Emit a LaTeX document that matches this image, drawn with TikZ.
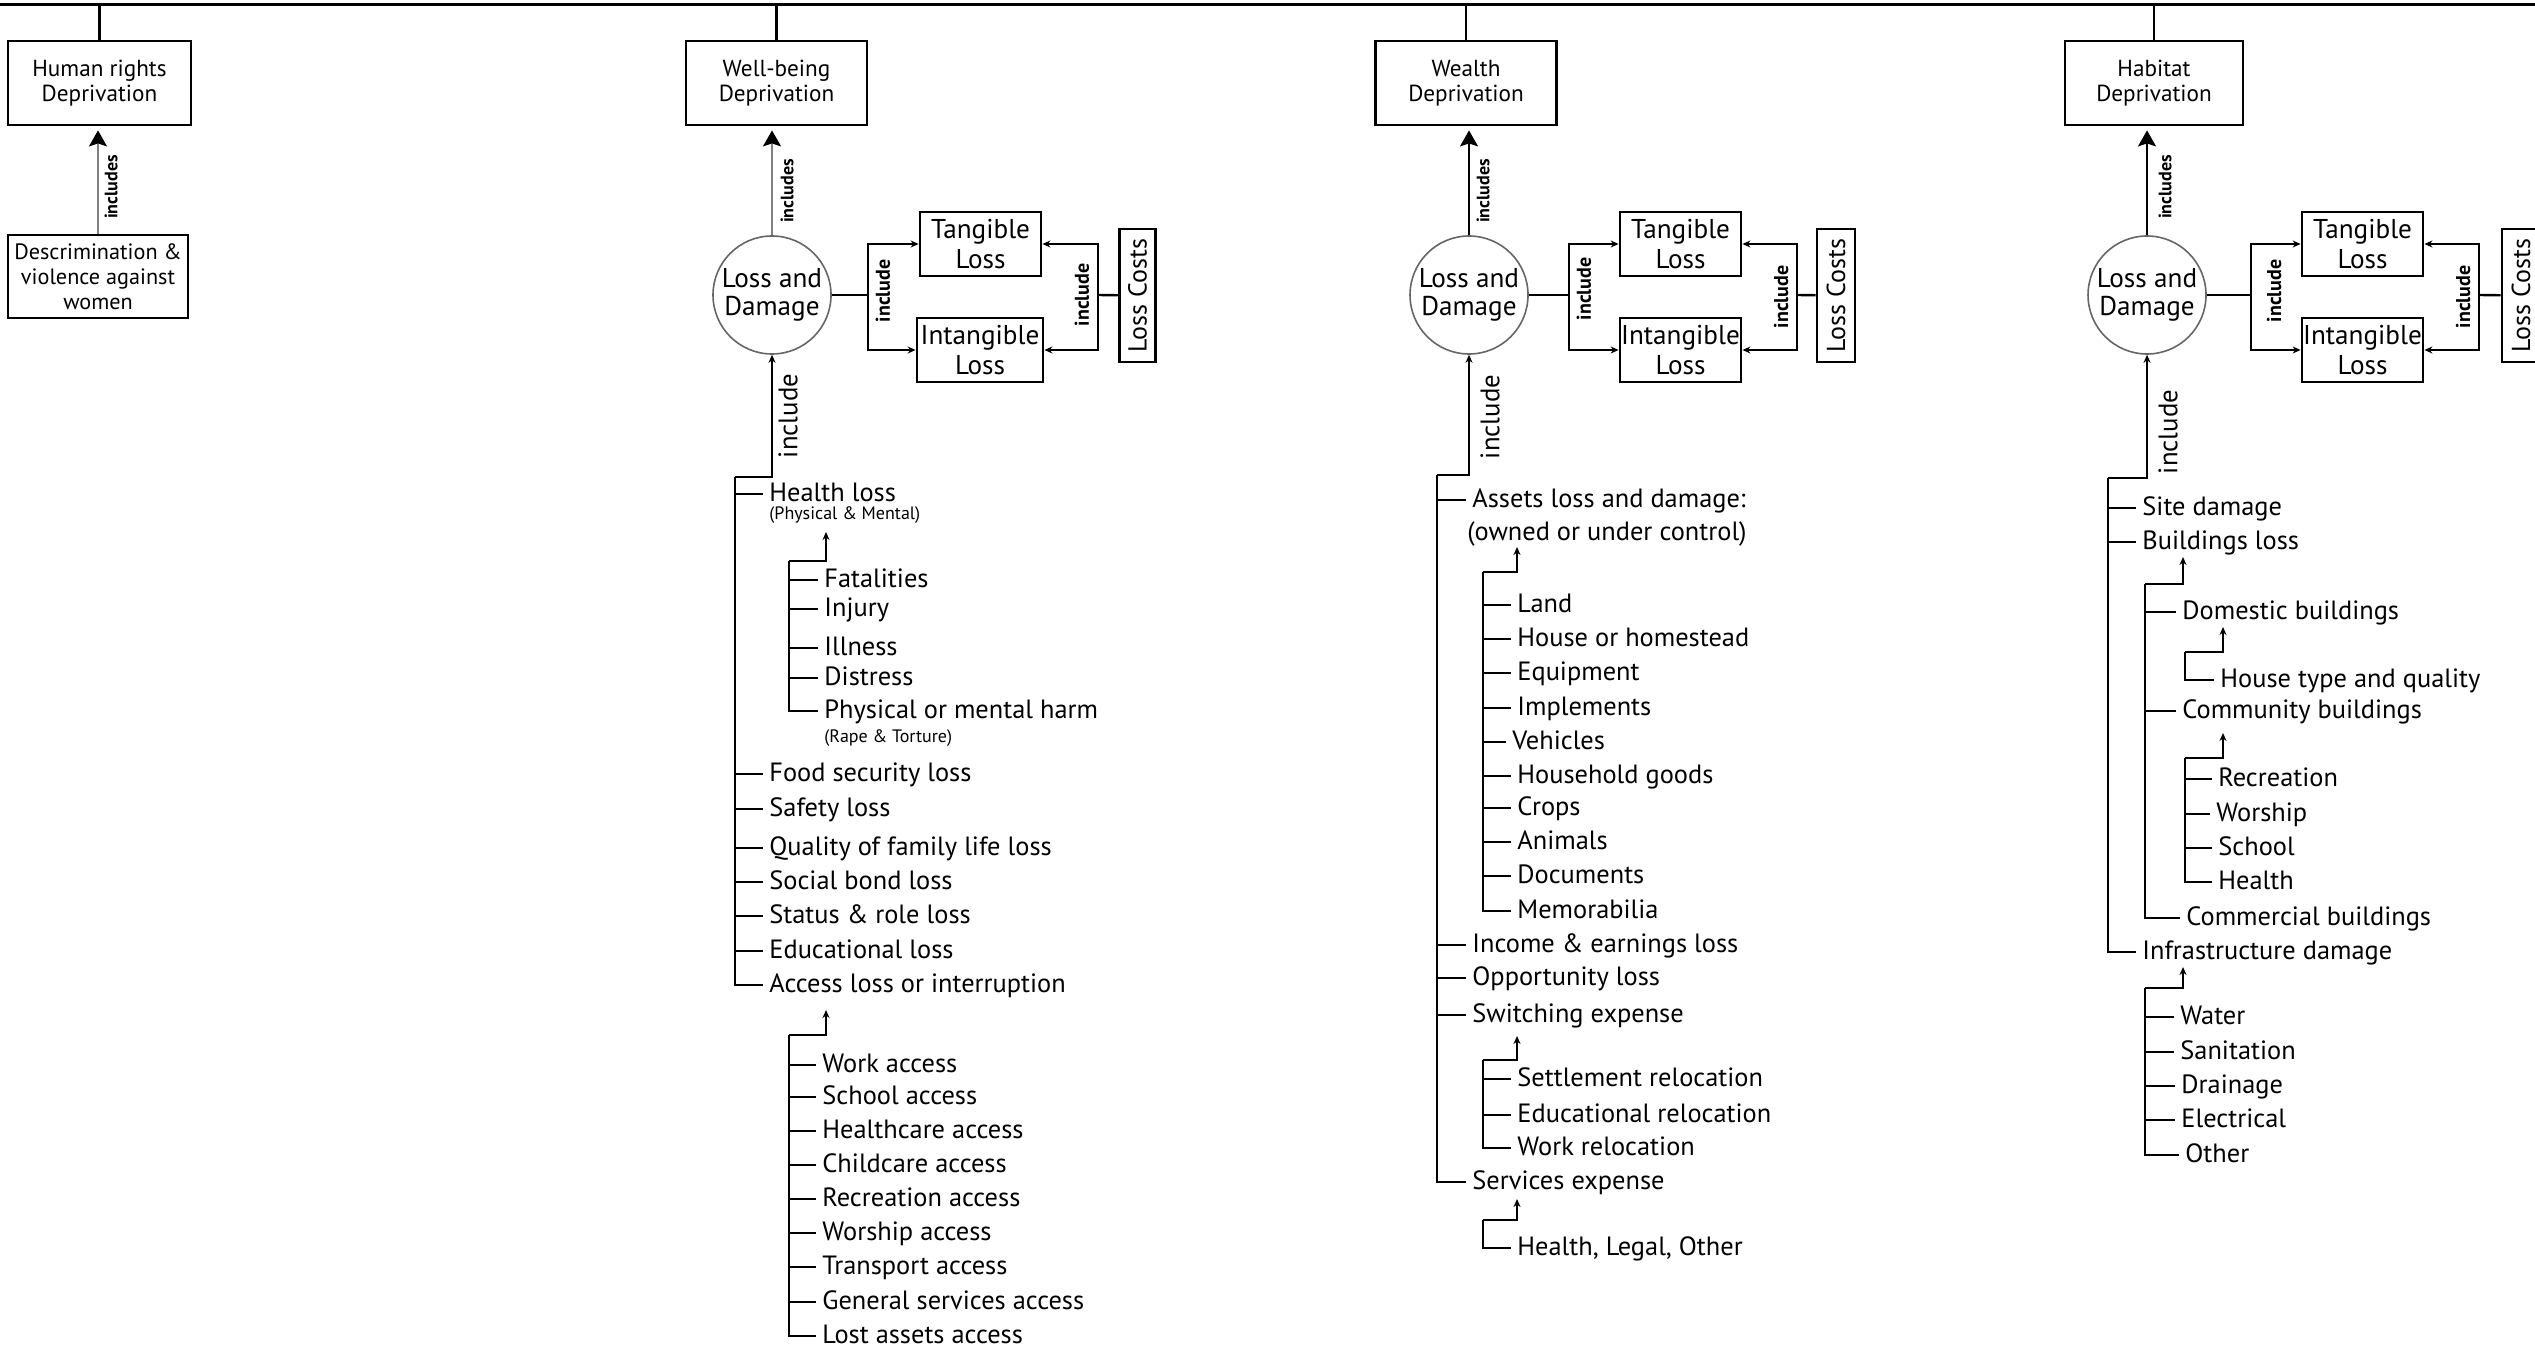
\documentclass[tikz,border=0pt]{standalone}
\usepackage{fontspec}
\setmainfont{PT Sans}
\usetikzlibrary{arrows.meta}
\newcommand{\itf}{\fontsize{13.2}{15}\selectfont}
\begin{document}
\begin{tikzpicture}[x=0.5pt,y=-0.5pt,
  box/.style={draw, line width=1.4pt, align=center, inner sep=0pt, font=\fontsize{11.6}{12.5}\selectfont},
  ldc/.style={circle, draw=black!60, line width=0.8pt, minimum size=59pt, inner sep=0pt, align=center, font=\fontsize{13.6}{14}\selectfont},
  lbox/.style={draw, line width=1.4pt, align=center, inner sep=0pt, minimum width=60.5pt, minimum height=32pt, font=\fontsize{13.6}{15}\selectfont},
  costbox/.style={draw, line width=1.4pt, inner sep=0pt, minimum width=66.5pt, minimum height=18pt, rotate=90, font=\fontsize{13}{15}\selectfont},
  item/.style={anchor=west, xshift=-3pt, inner xsep=3pt, inner ysep=0pt, text height=1.45ex, text depth=0pt, font=\itf},
  note/.style={anchor=west, inner sep=0pt, font=\fontsize{9}{10}\selectfont},
  plain/.style={anchor=west, inner sep=0pt, text height=1.45ex, text depth=0pt, font=\itf},
  tree/.style={line width=1.3pt},
  brk/.style={line width=1.2pt},
  sarr/.style={-{Stealth[length=4pt,width=3.5pt]}},
  toparr/.style={line width=1.1pt, shorten >=2pt, -{Stealth[length=8pt,width=9pt,inset=1.5pt]}},
  toparrg/.style={line width=1.1pt, shorten >=2pt, draw=black!50, -{Stealth[length=8pt,width=9pt,inset=1.5pt,color=black]}},
  inclab/.style={rotate=90, inner sep=0pt, font=\bfseries\fontsize{9}{10}\selectfont},
  inclabm/.style={rotate=90, inner sep=0pt, font=\bfseries\fontsize{10}{11}\selectfont},
  inclabb/.style={rotate=90, inner sep=0pt, font=\fontsize{13.4}{14}\selectfont}
]
\useasboundingbox[fill=white] (0,0) rectangle (2535,1347);

% top line
\coordinate (tl) at (0,5);
\coordinate (tr) at (2535,5);
\draw[line width=1.5pt] (tl) -- (tr);

% ---------------- Human rights ----------------
\node[box, minimum width=91.5pt, minimum height=42pt] (hr) at (99.5,83) {Human rights\\Deprivation};
\node[box, minimum width=90pt, minimum height=41.5pt, font=\fontsize{11.1}{12.5}\selectfont] (desc) at (98,276.5) {Descrimination \&\\violence against\\women};
\draw[line width=1.3pt] (hr.north) -- (hr.north |- tl);
\draw[toparrg] (desc.north) -- (desc.north |- hr.south);
\node[inclab] at (111,187) {includes};

% ---------------- Well-being ----------------
\node[box, minimum width=90.5pt, minimum height=42pt] (wb) at (776.5,83) {Well-being\\Deprivation};
\draw[line width=1.3pt] (wb.north) -- (wb.north |- tl);
\node[ldc] (wbld) at (772,295) {Loss and\\Damage};
\draw[toparrg] (wbld.north) -- (wbld.north |- wb.south);
\node[inclab] at (787,191) {includes};
\node[lbox] (wbt) at (980.5,244) {Tangible\\Loss};
\node[lbox, minimum width=63pt] (wbi) at (980,350) {Intangible\\Loss};
\node[costbox] (wbc) at (1137.5,295.5) {Loss Costs};
\coordinate (wbx) at (868,295);
\coordinate (wby) at (1098,295);
\draw[brk] (wbld) -- (wbx);
\draw[brk,sarr] (wbx) |- (wbt);
\draw[brk,sarr] (wbx) |- (wbi);
\draw[brk] (wbc) -- (wby);
\draw[brk,sarr] (wby) |- (wbt);
\draw[brk,sarr] (wby) |- (wbi);
\node[inclabm] at (883,291) {include};
\node[inclabm] at (1082,295) {include};
\node[inclabb] at (788,416) {include};

\coordinate (wb0) at (735,477);
\draw[tree,sarr] (wb0) -| (wbld);
\node[item] (w1) at (769,494) {Health loss};
\node[note] (w1n) at (769,515) {(Physical \& Mental)};
\node[item] (w2) at (769,774) {Food security loss};
\node[item] (w3) at (769,809) {Safety loss};
\node[item] (w4) at (769,848) {Quality of family life loss};
\node[item] (w5) at (769,882) {Social bond loss};
\node[item] (w6) at (769,916) {Status \& role loss};
\node[item] (w7) at (769,951) {Educational loss};
\node[item] (w8) at (769,985) {Access loss or interruption};
\foreach \n in {w1,w2,w3,w4,w5,w6,w7,w8} \draw[tree] (wb0) |- (\n);

\coordinate (h0) at (789,561);
\coordinate (hin) at (826,532);
\draw[tree,sarr] (h0) -| (hin);
\node[item] (h1) at (824,580) {Fatalities};
\node[item] (h2) at (824,609) {Injury};
\node[item] (h3) at (824,648) {Illness};
\node[item] (h4) at (824,678) {Distress};
\node[item] (h5) at (824,711) {Physical or mental harm};
\node[note] (h5n) at (824,738) {(Rape \& Torture)};
\foreach \n in {h1,h2,h3,h4,h5} \draw[tree] (h0) |- (\n);

\coordinate (a0) at (789,1035);
\coordinate (ain) at (826,1010);
\draw[tree,sarr] (a0) -| (ain);
\node[item] (a1) at (822,1065) {Work access};
\node[item] (a2) at (822,1097) {School access};
\node[item] (a3) at (822,1131) {Healthcare access};
\node[item] (a4) at (822,1165) {Childcare access};
\node[item] (a5) at (822,1199) {Recreation access};
\node[item] (a6) at (822,1233) {Worship access};
\node[item] (a7) at (822,1267) {Transport access};
\node[item] (a8) at (822,1302) {General services access};
\node[item] (a9) at (822,1336) {Lost assets access};
\foreach \n in {a1,a2,a3,a4,a5,a6,a7,a8,a9} \draw[tree] (a0) |- (\n);

% ---------------- Wealth ----------------
\node[box, minimum width=90.5pt, minimum height=42pt] (we) at (1466,83) {Wealth\\Deprivation};
\draw[line width=1.3pt] (we.north) -- (we.north |- tl);
\node[ldc] (weld) at (1469,295) {Loss and\\Damage};
\draw[toparr] (weld.north) -- (weld.north |- we.south);
\node[inclab] at (1483,191) {includes};
\node[lbox] (wet) at (1680.5,244) {Tangible\\Loss};
\node[lbox] (wei) at (1680.5,350) {Intangible\\Loss};
\node[costbox, minimum height=19pt] (wec) at (1836,295.5) {Loss Costs};
\coordinate (wex) at (1569,295);
\coordinate (wey) at (1797,295);
\draw[brk] (weld) -- (wex);
\draw[brk,sarr] (wex) |- (wet);
\draw[brk,sarr] (wex) |- (wei);
\draw[brk] (wec) -- (wey);
\draw[brk,sarr] (wey) |- (wet);
\draw[brk,sarr] (wey) |- (wei);
\node[inclabm] at (1584,289) {include};
\node[inclabm] at (1781,297) {include};
\node[inclabb] at (1490,417) {include};

\coordinate (we0) at (1437,475);
\draw[tree,sarr] (we0) -| (weld);
\node[item] (e1) at (1472,500) {Assets loss and damage:};
\node[plain] (e1n) at (1467,533) {(owned or under control)};
\node[item] (e2) at (1472,945) {Income \& earnings loss};
\node[item] (e3) at (1472,978) {Opportunity loss};
\node[item] (e4) at (1472,1015) {Switching expense};
\node[item] (e5) at (1472,1182) {Services expense};
\foreach \n in {e1,e2,e3,e4,e5} \draw[tree] (we0) |- (\n);

\coordinate (s0) at (1483,572);
\coordinate (sin) at (1517,547);
\draw[tree,sarr] (s0) -| (sin);
\node[item] (s1) at (1517,605) {Land};
\node[item] (s2) at (1517,639) {House or homestead};
\node[item] (s3) at (1517,673) {Equipment};
\node[item] (s4) at (1517,708) {Implements};
\node[item] (s5) at (1512,742) {Vehicles};
\node[item] (s6) at (1517,776) {Household goods};
\node[item] (s7) at (1517,808) {Crops};
\node[item] (s8) at (1517,842) {Animals};
\node[item] (s9) at (1517,876) {Documents};
\node[item] (s10) at (1517,911) {Memorabilia};
\foreach \n in {s1,s2,s3,s4,s5,s6,s7,s8,s9,s10} \draw[tree] (s0) |- (\n);

\coordinate (r0) at (1483,1060);
\coordinate (rin) at (1517,1036);
\draw[tree,sarr] (r0) -| (rin);
\node[item] (r1) at (1517,1079) {Settlement relocation};
\node[item] (r2) at (1517,1115) {Educational relocation};
\node[item] (r3) at (1517,1148) {Work relocation};
\foreach \n in {r1,r2,r3} \draw[tree] (r0) |- (\n);

\coordinate (v0) at (1483,1220);
\coordinate (vin) at (1517,1199);
\draw[tree,sarr] (v0) -| (vin);
\node[item] (v1) at (1517,1248) {Health, Legal, Other};
\draw[tree] (v0) |- (v1);

% ---------------- Habitat ----------------
\node[box, minimum width=89pt, minimum height=42pt] (hb) at (2154,83) {Habitat\\Deprivation};
\draw[line width=1.3pt] (hb.north) -- (hb.north |- tl);
\node[ldc] (hbld) at (2147,295) {Loss and\\Damage};
\draw[toparr] (hbld.north) -- (hbld.north |- hb.south);
\node[inclab] at (2165,187) {includes};
\node[lbox] (hbt) at (2362.5,244) {Tangible\\Loss};
\node[lbox] (hbi) at (2362.5,350) {Intangible\\Loss};
\node[costbox, minimum height=19pt] (hbc) at (2521,295.5) {Loss Costs};
\coordinate (hbx) at (2251,295);
\coordinate (hby) at (2479,295);
\draw[brk] (hbld) -- (hbx);
\draw[brk,sarr] (hbx) |- (hbt);
\draw[brk,sarr] (hbx) |- (hbi);
\draw[brk] (hbc) -- (hby);
\draw[brk,sarr] (hby) |- (hbt);
\draw[brk,sarr] (hby) |- (hbi);
\node[inclabm] at (2274,291) {include};
\node[inclabm] at (2463,297) {include};
\node[inclabb] at (2168,432) {include};

\coordinate (hb0) at (2108,478);
\draw[tree,sarr] (hb0) -| (hbld);
\node[item] (t1) at (2142,508) {Site damage};
\node[item] (t2) at (2142,542) {Buildings loss};
\node[item] (t3) at (2142,952) {Infrastructure damage};
\foreach \n in {t1,t2,t3} \draw[tree] (hb0) |- (\n);

\coordinate (b0) at (2145,584);
\coordinate (bin) at (2183,557);
\draw[tree,sarr] (b0) -| (bin);
\node[item] (b1) at (2182,612) {Domestic buildings};
\node[item] (b2) at (2182,711) {Community buildings};
\node[item] (b3) at (2186,918) {Commercial buildings};
\foreach \n in {b1,b2,b3} \draw[tree] (b0) |- (\n);

\coordinate (d0) at (2185,652);
\coordinate (din) at (2223,627);
\draw[tree,sarr] (d0) -| (din);
\node[item] (d1) at (2220,680) {House type and quality};
\draw[tree] (d0) |- (d1);

\coordinate (c0) at (2185,758);
\coordinate (cin) at (2223,733);
\draw[tree,sarr] (c0) -| (cin);
\node[item] (c1) at (2218,779) {Recreation};
\node[item] (c2) at (2216,814) {Worship};
\node[item] (c3) at (2218,848) {School};
\node[item] (c4) at (2218,882) {Health};
\foreach \n in {c1,c2,c3,c4} \draw[tree] (c0) |- (\n);

\coordinate (i0) at (2145,988);
\coordinate (iin) at (2183,967);
\draw[tree,sarr] (i0) -| (iin);
\node[item] (i1) at (2180,1017) {Water};
\node[item] (i2) at (2180,1052) {Sanitation};
\node[item] (i3) at (2181,1086) {Drainage};
\node[item] (i4) at (2181,1120) {Electrical};
\node[item] (i5) at (2185,1155) {Other};
\foreach \n in {i1,i2,i3,i4,i5} \draw[tree] (i0) |- (\n);
\end{tikzpicture}
\end{document}
